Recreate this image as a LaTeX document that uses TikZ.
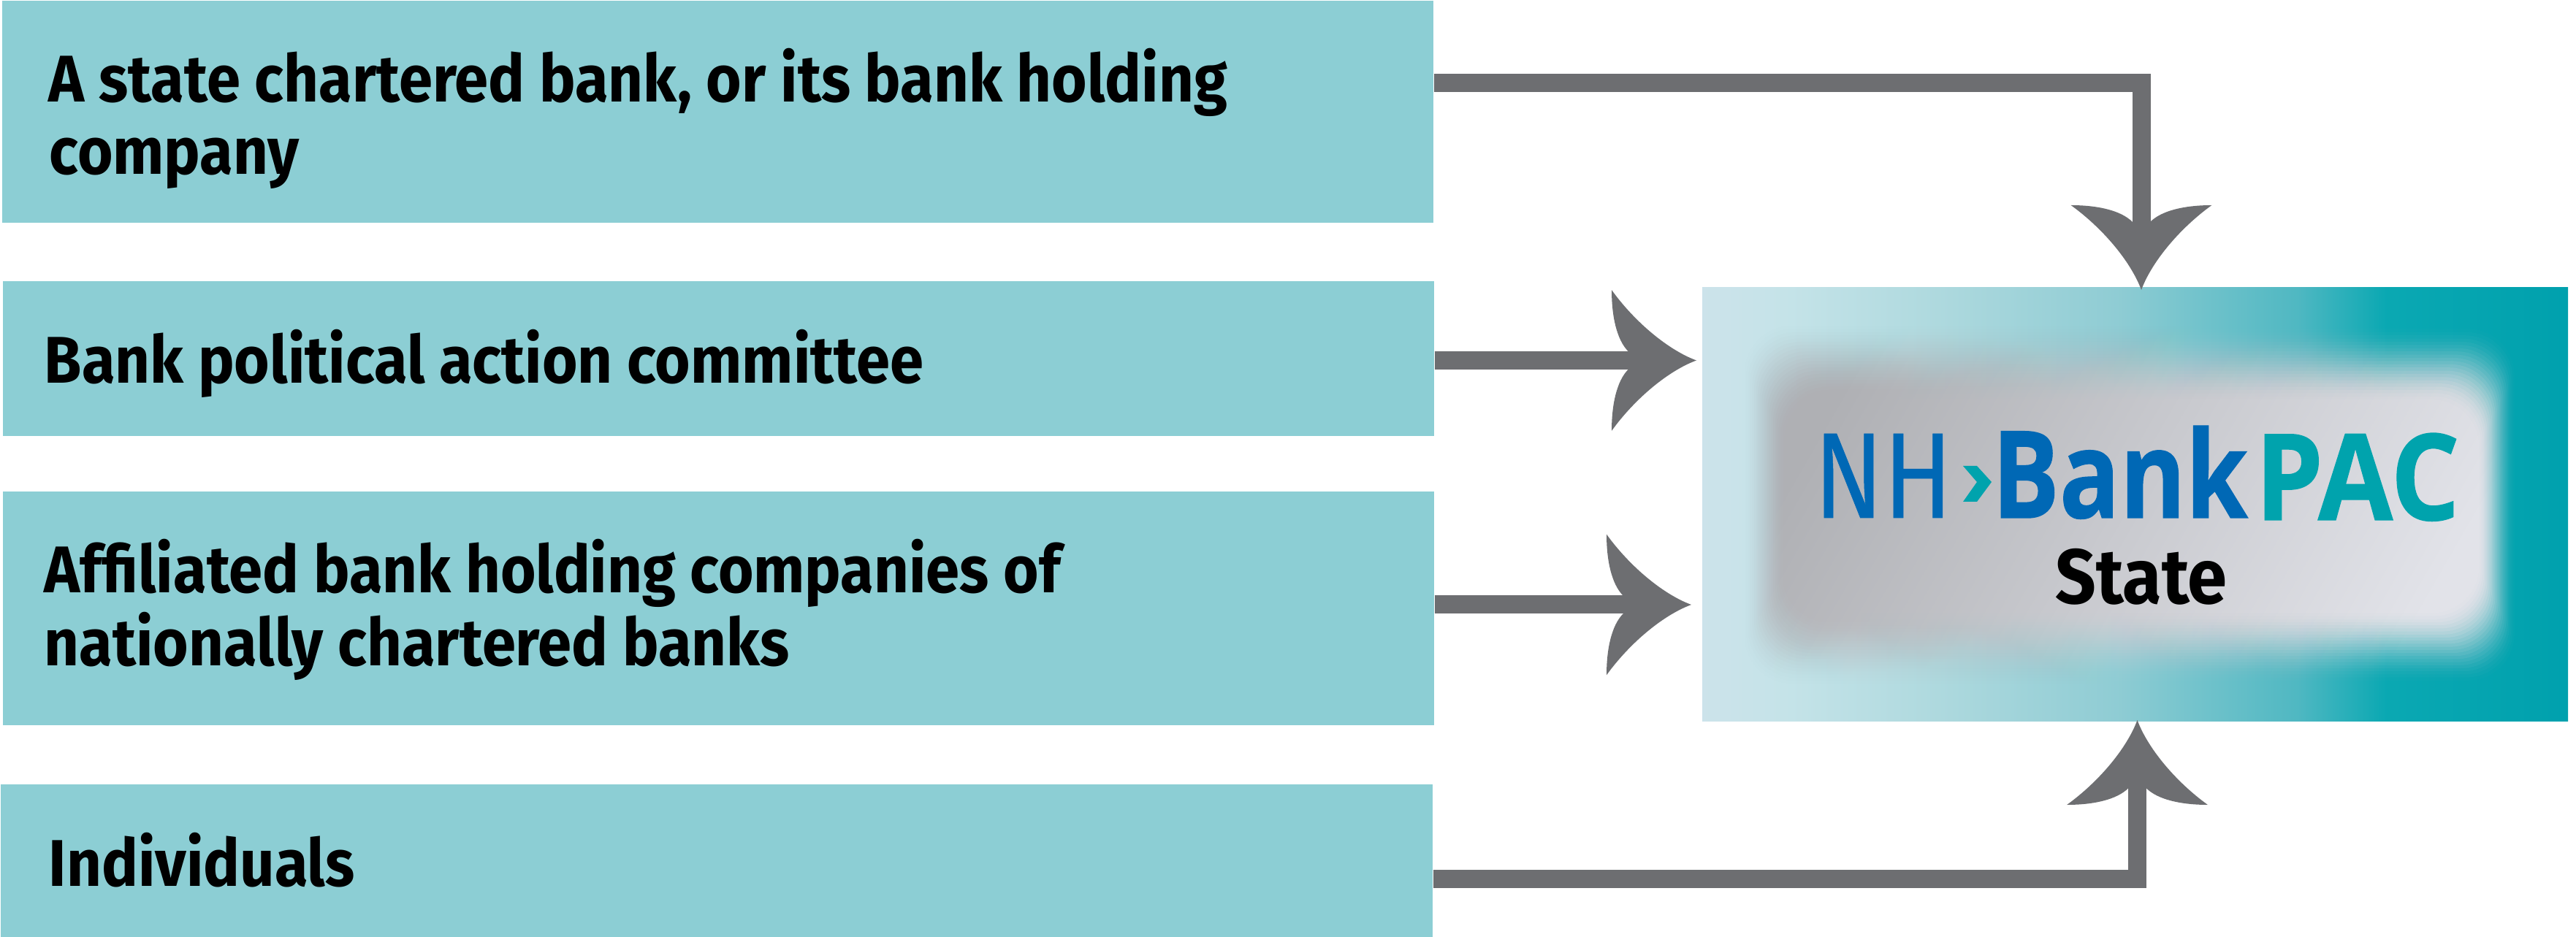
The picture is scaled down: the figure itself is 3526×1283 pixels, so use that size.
\documentclass[tikz,border=0pt]{standalone}
\usepackage{fontspec}
\usetikzlibrary{arrows.meta}
\setmainfont{Fira Sans}
\newfontfamily\labelfont[FakeStretch=0.92]{Fira Sans Bold}
\newfontfamily\logoreg[FakeBold=0.35]{Fira Sans}
\newfontfamily\logofont[BoldFeatures={FakeBold=0.8}]{Open Sans}
\definecolor{boxteal}{HTML}{8CCED4}
\definecolor{arrowgray}{HTML}{6D6E71}
\definecolor{logoblue}{HTML}{0068B5}
\definecolor{logoteal}{HTML}{00A3AD}
\definecolor{innerdark}{HTML}{AFB0B4}
\definecolor{innerlight}{HTML}{E2E3E9}
% px = 0.25pt
\pgfdeclarehorizontalshading{pacback}{100bp}{
 rgb(0bp)=(0.80,0.89,0.92);
 rgb(25bp)=(0.80,0.89,0.92);
 rgb(30bp)=(0.77,0.89,0.91);
 rgb(38.8bp)=(0.68,0.85,0.87);
 rgb(49bp)=(0.56,0.80,0.83);
 rgb(59.4bp)=(0.31,0.72,0.76);
 rgb(64.5bp)=(0.04,0.66,0.70);
 rgb(75bp)=(0.00,0.63,0.68);
 rgb(100bp)=(0.00,0.63,0.68)}
\pgfdeclarearrow{
  name=Swoop,
  setup code={\pgfarrowssettipend{0pt}\pgfarrowssetlineend{-23pt}\pgfarrowssetvisualbackend{-29pt}\pgfarrowssetbackend{-29pt}\pgfarrowshullpoint{0pt}{0pt}\pgfarrowshullpoint{-29pt}{24.1pt}\pgfarrowshullpoint{-29pt}{-24.1pt}},
  drawing code={
    \pgfsetfillcolor{arrowgray}
    \pgfpathmoveto{\pgfqpoint{0pt}{0pt}}
    \pgfpathcurveto{\pgfqpoint{-9.5pt}{3.5pt}}{\pgfqpoint{-21pt}{13pt}}{\pgfqpoint{-29pt}{24.1pt}}
    \pgfpathcurveto{\pgfqpoint{-29pt}{15pt}}{\pgfqpoint{-27.25pt}{7pt}}{\pgfqpoint{-23.25pt}{3pt}}
    \pgfpathlineto{\pgfqpoint{-23.25pt}{-3pt}}
    \pgfpathcurveto{\pgfqpoint{-27.25pt}{-7pt}}{\pgfqpoint{-29pt}{-15pt}}{\pgfqpoint{-29pt}{-24.1pt}}
    \pgfpathcurveto{\pgfqpoint{-21pt}{-13pt}}{\pgfqpoint{-9.5pt}{-3.5pt}}{\pgfqpoint{0pt}{0pt}}
    \pgfpathclose
    \pgfusepathqfill
  }
}
\tikzset{
  source/.style={fill=boxteal,draw=none,inner sep=0pt,anchor=north west},
  srctext/.style={font=\labelfont\fontsize{22.6}{25}\selectfont,text=black,inner sep=0pt,align=left,anchor=base west},
  conn/.style={draw=arrowgray,line width=6.25pt,-{Swoop},line join=miter}
}
\begin{document}
\begin{tikzpicture}[x=0.25pt,y=-0.25pt]
\useasboundingbox (0,0) rectangle (3526,1283);
% source boxes
\node[source,minimum width=489.75pt,minimum height=76pt] (a1) at (2,0) {};
\node[source,minimum width=489.75pt,minimum height=53pt] (a2) at (3,384) {};
\node[source,minimum width=489.75pt,minimum height=80pt] (a3) at (3,672) {};
\node[source,minimum width=490pt,minimum height=52.5pt] (a4) at (0,1073) {};
% labels
\node[srctext] (t1) at (66,140) {A state chartered bank, or its bank holding};
\node[srctext] (t1b) at (67,239) {company};
\node[srctext] (t2) at (60,524.5) {Bank political action committee};
\node[srctext] (t3) at (60,812) {Affiliated bank holding companies of};
\node[srctext] (t3b) at (60,911.5) {nationally chartered banks};
\node[srctext] (t4) at (66,1213) {Individuals};
% target
\shade[shading=pacback] (2330,394) rectangle (3515,987);
% blurred panel: nested layers whose opacities add up to a smooth ramp
\foreach \i in {0,...,23}{
  \pgfmathsetmacro{\ta}{\i/24}
  \pgfmathsetmacro{\tb}{(\i+1)/24}
  \pgfmathsetmacro{\fa}{\ta*\ta*(3-2*\ta)}
  \pgfmathsetmacro{\fb}{\tb*\tb*(3-2*\tb)}
  \pgfmathsetmacro{\al}{(\fb-\fa)/(1-\fa)}
  \begin{scope}
    \clip[rounded corners=16pt] ({2388+2.6*\i},{446+4.4*\i}) rectangle ({3444-2.2*\i},{936-4.2*\i});
    \shade[left color=innerlight,right color=innerdark,shading angle=-120,opacity=\al] (2388,446) rectangle (3444,936);
  \end{scope}
}
\node[inner sep=0pt,minimum width=296.25pt,minimum height=148.25pt,anchor=north west] (pac) at (2330,394) {};
\node[inner sep=0pt,anchor=base west,text=logoblue] (nh) at (2482,709) {\resizebox{47.5pt}{28.75pt}{\logoreg NH}};
\fill[logoteal] (2687,638) -- (2706,638) -- (2726,660) -- (2706,687) -- (2687,687) -- (2706,660) -- cycle;
\node[inner sep=0pt,anchor=base west,text=logoblue] (bank) at (2726,709) {\resizebox{87.5pt}{31.5pt}{\logofont\bfseries Bank}};
\node[inner sep=0pt,anchor=base west,text=logoteal] (pacword) at (3086,712) {\resizebox{70pt}{29.75pt}{\logofont\bfseries PAC}};
\node[font=\labelfont\fontsize{26.5}{28}\selectfont,inner sep=0pt,anchor=base] (st) at (2931,827) {State};
% connectors
\coordinate (c1) at (2931,113.5);
\coordinate (c2) at (2322,493.5);
\coordinate (c3) at (2315,828);
\coordinate (c4) at (2925.5,1203.5);
\coordinate (e1) at (2931,397);
\coordinate (e4) at (2925.5,986);
\draw[conn] (a1.east |- c1) -| (e1);
\draw[conn] (a2.east |- c2) -- (c2);
\draw[conn] (a3.east |- c3) -- (c3);
\draw[conn] (a4.east |- c4) -| (e4);
\end{tikzpicture}
\end{document}
